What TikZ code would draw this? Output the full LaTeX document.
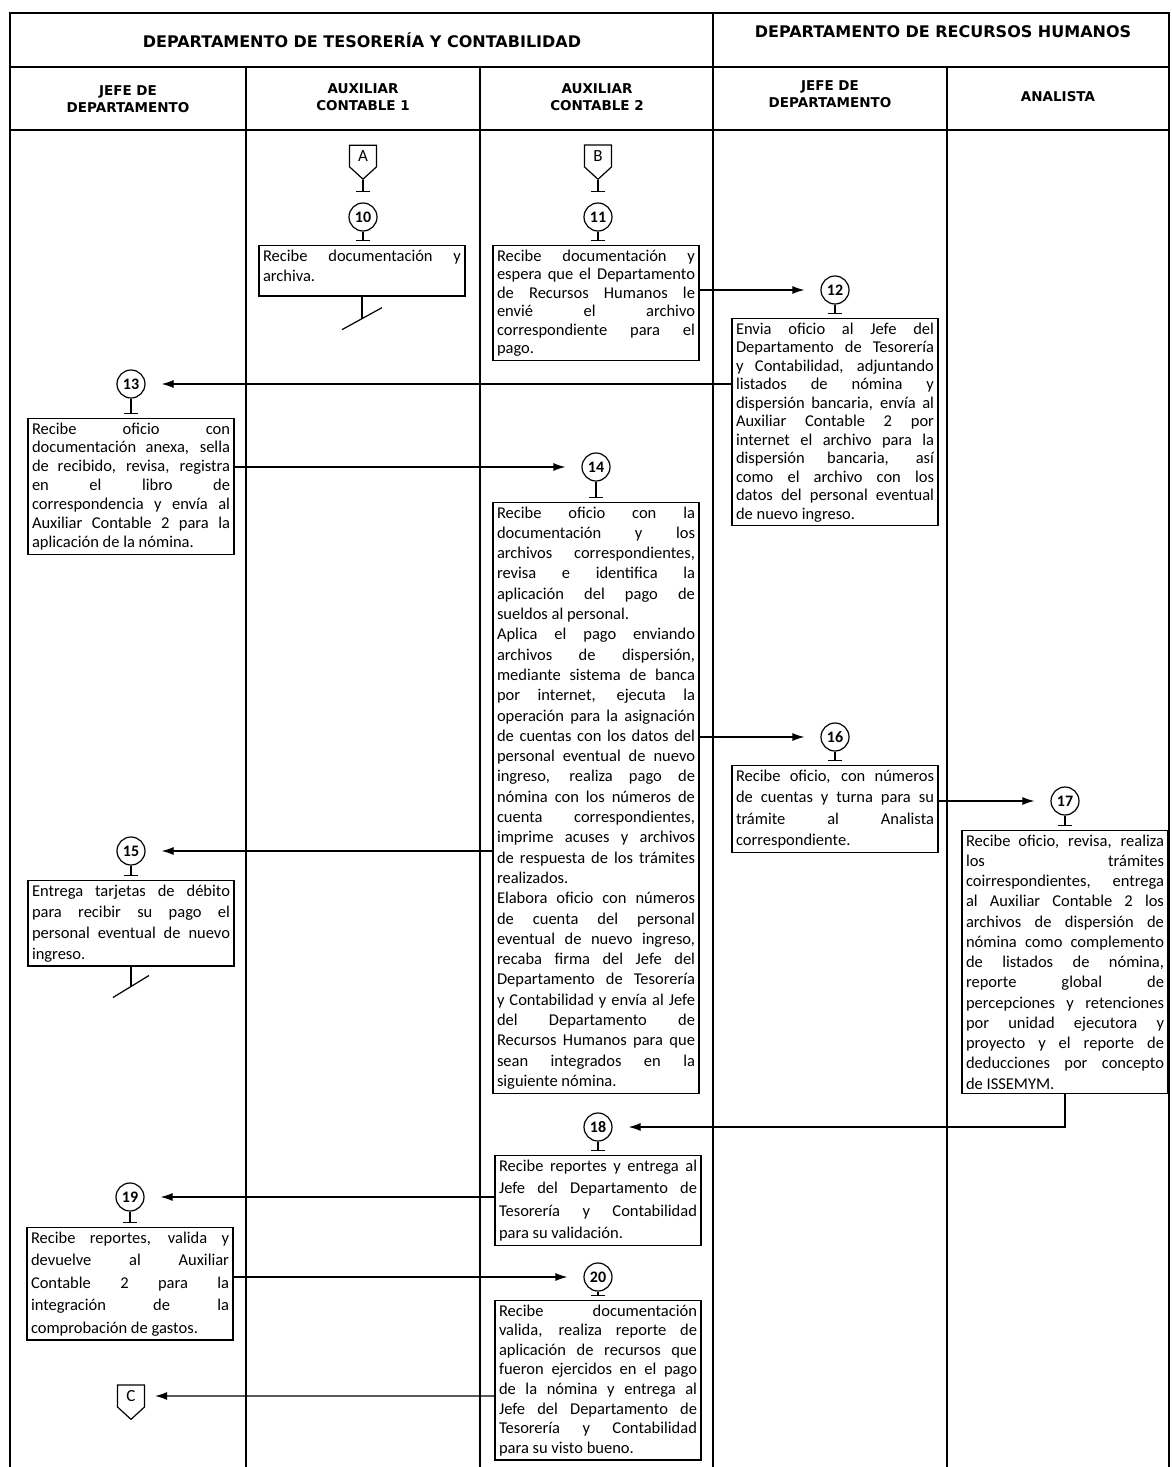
\documentclass[tikz,border=0pt]{standalone}
\usepackage{fontspec}
\setmainfont{Carlito}
\newfontfamily\encfont{DejaVu Sans}
\usetikzlibrary{arrows.meta,shapes.symbols}
\tolerance=10000
\hbadness=10000

\tikzset{
  marco/.style={line width=1.5pt},
  depto/.style={font=\encfont\bfseries\fontsize{16}{18}\selectfont},
  encab/.style={font=\encfont\bfseries\fontsize{13.5}{17}\selectfont, align=center},
  caja/.style={draw, line width=1.2pt, anchor=north, text width=198pt, inner xsep=4pt, inner ysep=4pt, align=justify, font=\fontsize{16.5}{#1}\selectfont},
  caja/.default=20,
  paso/.style={circle, draw, line width=1.2pt, minimum size=28pt, inner sep=0pt, font=\bfseries\fontsize{16}{16}\selectfont},
  conector/.style={signal, signal to=south, signal pointer angle=95, draw, line width=1.2pt, minimum width=27pt, minimum height=27pt, inner sep=1pt, font=\fontsize{17}{17}\selectfont},
  flecha/.style={line width=1.2pt, -{Latex[length=12pt,width=8pt]}, shorten >=16pt},
  tope/.style={line width=1.2pt, -{Bar[width=14pt]}},
  linea/.style={line width=1.2pt},
}

\begin{document}
\begin{tikzpicture}[x=1pt,y=-1pt]
  \useasboundingbox (0,0) rectangle (1171,1467);

  % marco y carriles
  \draw[marco] (10,1467) -- (10,13) -- (1169,13) -- (1169,1467);
  \draw[marco] (10,67) -- (1169,67);
  \draw[marco] (10,130) -- (1169,130);
  \foreach \x in {246,480,947}
    \draw[marco] (\x,67) -- (\x,1467);
  \draw[marco] (713,13) -- (713,1467);

  % encabezados
  \node[depto] (dtc) at (362,40) {DEPARTAMENTO DE TESORERÍA Y CONTABILIDAD};
  \node[depto] (drh) at (943,32) {DEPARTAMENTO DE RECURSOS HUMANOS};
  \node[encab] (jtc) at (128,99) {JEFE DE\\DEPARTAMENTO};
  \node[encab] (ac1) at (363,97) {AUXILIAR\\CONTABLE 1};
  \node[encab] (ac2) at (597,97) {AUXILIAR\\CONTABLE 2};
  \node[encab] (jrh) at (830,94) {JEFE DE\\DEPARTAMENTO};
  \node[encab] (ana) at (1058,97) {ANALISTA};

  % conectores y pasos
  \node[conector] (conA) at (363,156) {A};
  \node[conector] (conB) at (598,156) {B};
  \node[conector] (conC) at (131,1396) {C};

  \node[paso] (p10) at (363,217) {10};
  \node[caja=20, text depth=31pt] (t10) at (362,245) {Recibe documentación y\linebreak archiva.};

  \node[paso] (p11) at (598,217) {11};
  \node[caja=18.5] (t11) at (596,245) {Recibe documentación y\linebreak espera que el Departamento\linebreak de Recursos Humanos le\linebreak envié el archivo\linebreak correspondiente para el\linebreak pago.};

  \node[paso] (p12) at (835,290) {12};
  \node[caja=18.5] (t12) at (835,318) {Envia oficio al Jefe del\linebreak Departamento de Tesorería\linebreak y Contabilidad, adjuntando\linebreak listados de nómina y\linebreak dispersión bancaria, envía al\linebreak Auxiliar Contable 2 por\linebreak internet el archivo para la\linebreak dispersión bancaria, así\linebreak como el archivo con los\linebreak datos del personal eventual\linebreak de nuevo ingreso.};

  \node[paso] (p13) at (131,384) {13};
  \node[caja=18.9] (t13) at (131,418) {Recibe oficio con\linebreak documentación anexa, sella\linebreak de recibido, revisa, registra\linebreak en el libro de\linebreak correspondencia y envía al\linebreak Auxiliar Contable 2 para la\linebreak aplicación de la nómina.};

  \node[paso] (p14) at (596,467) {14};
  \node[caja=20.3] (t14) at (596,502) {Recibe oficio con la\linebreak documentación y los\linebreak archivos correspondientes,\linebreak revisa e identifica la\linebreak aplicación del pago de\linebreak sueldos al personal.\\ Aplica el pago enviando\linebreak archivos de dispersión,\linebreak mediante sistema de banca\linebreak por internet, ejecuta la\linebreak operación para la asignación\linebreak de cuentas con los datos del\linebreak personal eventual de nuevo\linebreak ingreso, realiza pago de\linebreak nómina con los números de\linebreak cuenta correspondientes,\linebreak imprime acuses y archivos\linebreak de respuesta de los trámites\linebreak realizados.\\ Elabora oficio con números\linebreak de cuenta del personal\linebreak eventual de nuevo ingreso,\linebreak recaba firma del Jefe del\linebreak Departamento de Tesorería\linebreak y Contabilidad y envía al Jefe\linebreak del Departamento de\linebreak Recursos Humanos para que\linebreak sean integrados en la\linebreak siguiente nómina.};

  \node[paso] (p15) at (131,851) {15};
  \node[caja=21] (t15) at (131,880) {Entrega tarjetas de débito\linebreak para recibir su pago el\linebreak personal eventual de nuevo\linebreak ingreso.};

  \node[paso] (p16) at (835,737) {16};
  \node[caja=21.5] (t16) at (835,765) {Recibe oficio, con números\linebreak de cuentas y turna para su\linebreak trámite al Analista\linebreak correspondiente.};

  \node[paso] (p17) at (1065,801) {17};
  \node[caja=20.25] (t17) at (1065,830) {Recibe oficio, revisa, realiza\linebreak los trámites\linebreak coirrespondientes, entrega\linebreak al Auxiliar Contable 2 los\linebreak archivos de dispersión de\linebreak nómina como complemento\linebreak de listados de nómina,\linebreak reporte global de\linebreak percepciones y retenciones\linebreak por unidad ejecutora y\linebreak proyecto y el reporte de\linebreak deducciones por concepto\linebreak de ISSEMYM.};

  \node[paso] (p18) at (598,1127) {18};
  \node[caja=22.5] (t18) at (598,1155) {Recibe reportes y entrega al\linebreak Jefe del Departamento de\linebreak Tesorería y Contabilidad\linebreak para su validación.};

  \node[paso] (p19) at (130,1197) {19};
  \node[caja=22.5] (t19) at (130,1227) {Recibe reportes, valida y\linebreak devuelve al Auxiliar\linebreak Contable 2 para la\linebreak integración de la\linebreak comprobación de gastos.};

  \node[paso] (p20) at (598,1277) {20};
  \node[caja=19.6] (t20) at (598,1300) {Recibe documentación\linebreak valida, realiza reporte de\linebreak aplicación de recursos que\linebreak fueron ejercidos en el pago\linebreak de la nómina y entrega al\linebreak Jefe del Departamento de\linebreak Tesorería y Contabilidad\linebreak para su visto bueno.};

  % entradas de conectores
  \draw[tope, shorten >=10pt] (conA.south) -- (p10.north);
  \draw[tope, shorten >=10pt] (conB.south) -- (p11.north);

  % pie de cada paso
  \foreach \n in {10,11,12,13,14,15,16,17,18,19,20}
    \draw[tope, shorten >=4pt] (p\n.south) -- (p\n.south |- t\n.north);

  % flujo
  \draw[flecha] (t11.east |- p12) -- (p12);
  \draw[flecha] (t12.west |- p13) -- (p13);
  \draw[flecha] (t13.east |- p14) -- (p14);
  \draw[flecha] (t14.east |- p16) -- (p16);
  \draw[flecha] (t14.west |- p15) -- (p15);
  \draw[flecha] (t16.east |- p17) -- (p17);
  \draw[flecha] (t17.south) |- (p18);
  \draw[flecha] (t18.west |- p19) -- (p19);
  \draw[flecha] (t19.east |- p20) -- (p20);
  \draw[flecha, shorten >=10pt] (t20.west |- conC) -- (conC);

  % fin de rama
  \draw[linea] (t10.south) -- ++(0,22) coordinate (fin10);
  \draw[linea] (fin10) +(-20,11) -- +(20,-11);
  \draw[linea] (t15.south) -- ++(0,20) coordinate (fin15);
  \draw[linea] (fin15) +(-18,11) -- +(18,-11);
\end{tikzpicture}
\end{document}
